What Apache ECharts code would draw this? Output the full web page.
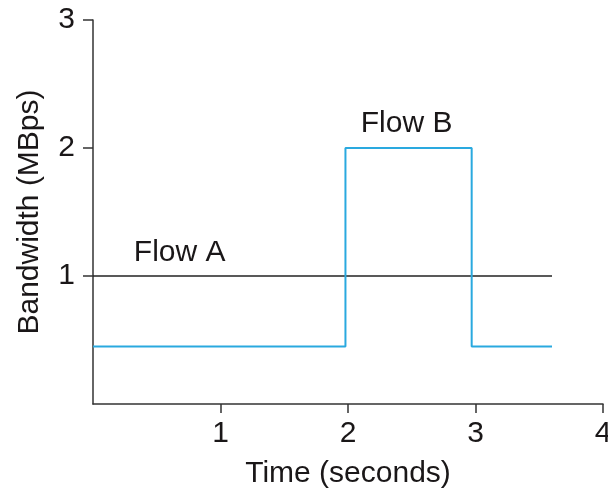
<!DOCTYPE html>
<html><head><meta charset="utf-8">
<script src="https://cdn.jsdelivr.net/npm/echarts@6/dist/echarts.min.js"></script>
<style>html,body{margin:0;padding:0;background:#fff}#c{width:608px;height:493px}</style>
</head><body><div id="c"></div>
<script>
// Data
const flowATime = [0, 3.6];
const flowABandwidth = [1, 1];
const flowBTime = [0, 1.98, 1.98, 2.97, 2.97, 3.6];
const flowBBandwidth = [0.45, 0.45, 2, 2, 0.45, 0.45];
const xTickValues = [1, 2, 3, 4];
const yTickValues = [1, 2, 3];
const labelNames = ['Flow A', 'Flow B'];
const labelTime = [0.32, 2.1];
const labelBandwidth = [1.18, 2.19];

const font = "'Liberation Sans', Arial, Helvetica, sans-serif";
const ink = '#1a1718';
const chart = echarts.init(document.getElementById('c'), null, {renderer: 'canvas'});
chart.setOption({
  animation: false,
  grid: {left: 93, right: 5, top: 20, bottom: 89, containLabel: false, outerBoundsMode: 'none'},
  xAxis: {
    type: 'value', min: 0, max: 4, interval: 1,
    name: 'Time (seconds)', nameLocation: 'middle', nameGap: 55,
    nameTextStyle: {fontFamily: font, fontSize: 30, color: ink},
    axisLine: {lineStyle: {color: '#333', width: 1.5}},
    axisTick: {show: true, inside: false, length: 9, customValues: xTickValues, lineStyle: {color: '#333', width: 1.5}},
    axisLabel: {customValues: xTickValues, margin: 15, fontFamily: font, fontSize: 30, color: ink, hideOverlap: false},
    splitLine: {show: false}
  },
  yAxis: {
    type: 'value', min: 0, max: 3, interval: 1,
    name: 'Bandwidth (MBps)', nameLocation: 'middle', nameGap: 48, nameRotate: 90,
    nameTextStyle: {fontFamily: font, fontSize: 30, color: ink},
    axisLine: {show: true, lineStyle: {color: '#333', width: 1.5}},
    axisTick: {show: true, inside: false, length: 10, customValues: yTickValues, lineStyle: {color: '#333', width: 1.5}},
    axisLabel: {customValues: yTickValues, margin: 18, fontFamily: font, fontSize: 30, color: ink},
    splitLine: {show: false}
  },
  series: [
    {
      type: 'line', name: labelNames[0], symbol: 'none', z: 2,
      data: flowATime.map((t, i) => [t, flowABandwidth[i]]),
      lineStyle: {color: '#222', width: 1.5}
    },
    {
      type: 'line', name: labelNames[1], symbol: 'none', z: 3,
      data: flowBTime.map((t, i) => [t, flowBBandwidth[i]]),
      lineStyle: {color: '#2aa9df', width: 2}
    },
    {
      type: 'scatter', symbolSize: 0, silent: true, z: 4,
      itemStyle: {opacity: 1},
      data: labelNames.map((n, i) => ({value: [labelTime[i], labelBandwidth[i]], name: n})),
      label: {show: true, position: 'right', distance: 0, formatter: p => p.name, opacity: 1,
        fontFamily: font, fontSize: 30, color: ink}
    }
  ]
});
</script></body></html>
